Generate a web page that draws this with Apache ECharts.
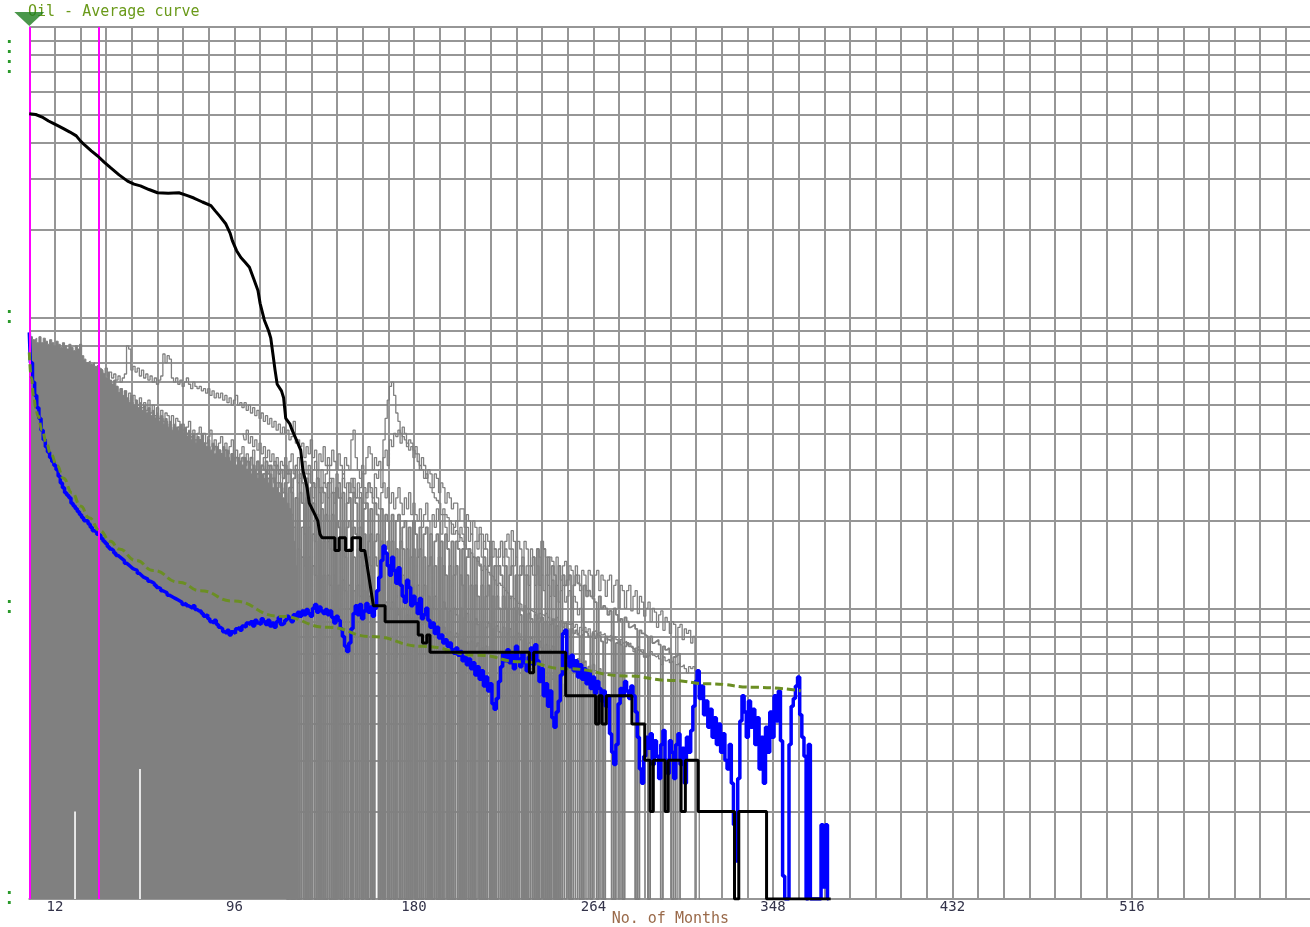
<!DOCTYPE html>
<html><head><meta charset="utf-8">
<script src="https://cdn.jsdelivr.net/npm/echarts@6/dist/echarts.min.js"></script>
<style>html,body{margin:0;padding:0;background:#fff}#c{width:1310px;height:927px}</style>
</head><body><div id="c"></div>
<script>
// ---------- tick labels / reference levels ----------
const tickLabels = [12, 96, 180, 264, 348, 432, 516];
const minorLevels = [2,3,4,5,6,7,8,9,20,30,40,50,60,70,80,90,200,300,400,500,600,700,800,900];
const markerMonths = [0, 32.5];
const headMarker = [[0, 1000]];

// ---------- dense grey mass of the early months (rate, month index = position) ----------
const greyTop = [
89,86,84,85,82,86,82,85,83,81,
84,82,80,83,81,79,82,80,78,81,
79,77,80,78,81,74,72,70,71,69,
70,68,69,67,66,64,62,65,61,59,
61,58,55,57,54,56,53,51,54,50,
52,49,51,48,50,47,49,46,48,45,
47,44,46,43,45,42,44,41,43,42,
41,43,40,42,39,41,38,40,37,39,
38,40,37,36,38,35,37,34,36,35,
34,36,33,35,32,34,33,31,33,32,
31,33,30,32,29,31,30,28,30,29,
28,30,27,29,26,28,26,25,27,24,
25,23,22,20,17,14,10
];
const gapMarks = [[21.4, 2.0], [51.8, 2.8]];

// ---------- individual wells (first month in wellStarts) ----------
const wellStarts = [34, 34, 40, 45, 50, 60, 100];
const wellWidths = [1.3, 1.3, 1.8, 1.8, 1.6, 1.6, 1.3];
const wellA = [
66,64,67,63,65,62,
64,61,63,60,62,64,80,78,66,68,
65,67,63,66,62,64,61,63,60,62,
59,61,63,75,70,74,72,62,60,62,
59,61,58,60,62,59,57,60,58,57,
58,56,57,55,57,54,56,53,55,53,
55,52,54,51,53,50,52,54,50,51,
49,51,48,50,47,49,46,48,45,47,
44,46,43,45,42,44,41,43,40,42,
40,41,38,39,44,37,38,36,37,33,
36,34,38,33,35,30,34,32,36,31,
33,31,35,32,30,34,31,29,33,31,
30,38,41,33,30,28,31,29,33,36,
34,30,33,31,32,30,38,45,52,58,
60,54,47,44,40,39,38,37,35,36,
35,34,32,31,30,28,29,27,26,25,
24,23.5,23,21,22,21,20.5,20,19.5,18,
18.5,18,17.5,17,16.5,16,15,15.5,15,14.8,
14.5,14.2,13.5,14,13.6,13.3,13,12.8,12.5,12,
12.2,12,11.8,11.5,11.3,10.8,11,10.8,10.6,10.4,
10.3,9.8,10.2,10,9.9,9.8,9.7,9.6,9.2,9.6,
9.5,9.4,9.6,9.3,1,9.2,9.1,9.3,9,9.1,
8.9,8.5,9,8.8,8.9,8.6,8.8,8.2,8.6,8.4,
8.6,8.3,8.5,8,8.3,8.4,8.2,8.3,8.1,8.2,
7.6,8,8.1,7.9,8,7.8,1,7.8,7.6,7.7,
7.5,7.6,7.4,7.1,7.3,7.4,7.2,7.2,7,6.8,
6.9,7.1,6.9,6.8,6.9,6.7,6.4,6.8,6.6,6.7,
6.5,6.6,1,6.4,6.5,6.3,6.4,6.2,6,6.3,
6.2,6.3,6.1,6,1
];
const wellB = [
60,62,58,61,57,59,
56,58,55,57,53,56,52,55,51,54,
52,50,53,49,51,48,52,47,50,46,
49,45,48,44,47,46,43,46,42,45,
44,41,43,40,42,44,39,41,38,40,
42,38,40,37,39,41,36,38,35,37,
39,35,37,34,36,38,33,35,32,34,
36,32,34,31,33,35,30,32,29,31,
33,29,31,28,30,32,27,29,26,28,
30,27,29,26,28,31,27,25,29,28,
26,29,27,24,26,30,25,23,27,26,
24,28,25,23,26,27,24,29,26,23,
27,25,28,24,24,26,29,23,25,27,
26,24,29,28,30,26,33,35,31,38,
36,40,39,41,37,42,40,36,38,37,
33,36,34,30,33,31,28,30,29,26,
29,28,25,27,26,23,25,24,22,23,
23,20,22,22,19,21,20,18,20,19,
17,19,18,16,18,17,15,17,16,15,
16,17,15,17,18,16,18.5,17,15,17,
16,14,17,16,14,16,15,13,16,15,
13,16,15,13,15,14.5,1,15,14,12.5,
14,14.5,12,14,13.5,12,14,13,11.5,13.5,
13,11.5,13.5,13,11,13,13.5,11.5,13,12.5,
11,12.5,13,10.5,12,12.5,10,12,11.5,10,
11.5,12,9.8,11,11.5,9.6,11,10.5,9.4,10,
10.5,9,10,9.7,8.6,9.5,9.8,8.4,9.3,9,
8.2,9,8.8,1,8.6,8.8,7.8,8.5,8.2,8.4,
7.6,8,1
];
const wellC = [
54,52,55,51,53,50,52,49,51,48,
50,47,49,46,48,45,47,44,46,45,
46,43,45,42,44,41,43,40,42,41,
42,39,41,38,40,37,39,38,36,38,
38,36,37,35,36,34,35,36,33,35,
34,32,35,33,31,34,32,33,31,32,
33,31,32,30,33,31,30,32,29,31,
30,32,29,31,30,28,31,29,30,28,
31,29,30,1,28,30,1,29,27,1,
28,1,26,27,1,28,1,26,25,1,
27,1,25,1,26,24,1,25,1,23,
24,1,25,23,1,24,1,22,23,1,
22,1,23,21,1,22,1,21,20,1,
21,1,20,21,1,19,20,1,19,1,
20,18,1,19,1,18,19,1,18,1,
17,18,1,17,1,18,16,1,17,1,
17,16,1,16,1,15,16,1,15,1,
15,14,1,15,1,14,15,1,14,1,
14,13,1,14,1,13,14,1,13,1,
13,14,1,13,1,14,15,1,16,1,
17,16,1,15,1,14,13,1,14,1,
13,12,12.5,13,1,12,13,12.2,12,1,
12,11,11.5,11,10.8,10.5,1,11,10,10.2,
10,9.5,9.8,1,10,9.5,9,9.2,1,9.3,
9,8.6,8.7,8.8,8.5,1,8.4,8.2,8.1,8,
1,8,7.6,7.7,7.8,7.5,1,7.4,7.2,7.3,
7,1,6.8,6.9,7,1
];
const wellD = [
48,46,49,45,47,
44,46,43,45,42,44,41,43,42,40,
42,40,41,39,40,38,40,37,39,38,
37,39,36,38,37,35,37,36,34,36,
35,33,35,34,32,34,33,31,33,32,
33,31,32,30,32,31,29,31,30,29,
31,29,30,28,30,29,27,29,28,27,
29,27,28,26,28,27,25,27,26,25,
27,1,26,25,1,24,1,25,23,1,
24,1,22,23,1,21,1,22,1,21,
20,1,21,1,20,19,1,20,1,19,
20,1,19,18,1,19,1,18,1,17,
18,1,17,18,1,17,1,16,17,1,
17,1,16,1,17,16,1,16,1,15,
16,1,15,16,1,15,1,14,15,1,
14,1,15,1,14,13,1,14,1,13,
14,1,13,12,1,13,1,12,1,12,
11,1,12,1,11,12,1,11,1,11,
10,1,11,10,1,11,1,10,1,10,
9.5,1,10,1,9.6,9.2,1,9.5,1,9,
9.3,1,9,1,8.8,9.1,1,8.7,1,9,
8.6,8.9,8.5,1,8.5,8.2,8.4,8.1,1,8.1,
8.3,8.2,8,1,8.2,7.9,8.1,8,7.7,1,
8,7.8,7.7,7.9,1,7.6,7.7,7.5,1,7.4,
7.6,7.4,7.3,7.2,1,7.2,7.1,7,6.8,6.9,
1
];
const wellE = [
40,42,39,41,38,40,37,39,38,36,
38,36,37,35,37,34,36,35,33,35,
34,36,33,35,34,32,34,33,31,33,
32,30,32,31,29,31,30,28,30,29,
28,30,27,29,28,26,28,27,25,27,
26,25,27,24,26,25,23,25,24,22,
24,23,21,23,22,20,22,21,19,21,
20,22,1,21,19,1,20,1,19,18,
1,19,1,18,17,1,18,1,17,1,
17,16,1,17,1,16,1,17,15,1,
16,1,15,1,16,15,1,14,1,15,
14,1,15,14,1,13,1,14,1,13,
14,1,13,12,1,13,1,12,1,12,
11,1,12,1,11,12,1,11,1,10,
11,1,10,1,10.5,10,1,9.8,1,10,
9.5,1,10,1,9.3,9.6,1,9,1,9.2,
8.8,1,9,1,8.6,8.9,1,8.5,1,8.7,
8.3,1,8.6,1,8.2,8.5,1,8,1,8.2,
7.8,1,8,1,7.6,7.9,1,7.5,1,7.7,
7.3,1,7.5,1,7.2,7.4,1,7,1,7.1,
6.9,1,7,1,6.8,6.6,1,6.7,1,6.5,
6.6,1,6.3,1,6.4,6.1,1,6.2,1,6,
1
];
const wellF = [
36,34,35,33,35,32,34,33,31,33,
32,30,32,31,29,31,30,28,30,29,
28,30,27,29,28,26,28,27,25,27,
26,25,27,24,26,25,23,25,24,22,
24,23,21,23,22,20,22,21,19,21,
20,19,21,18,20,19,17,19,18,16,
18,17,1,16,15,1,16,1,15,14,
1,15,1,14,13,1,14,1,13,1,
13,12,1,13,1,12,1,12.5,11.5,1,
12,1,11.5,1,12,11,1,11.5,1,11,
10.5,1,11,10.5,1,10,1,10.5,1,10,
10.5,1,10,9.5,1,10,1,9.5,1,9.2,
9,1,9.3,1,8.8,9.1,1,8.7,1,8.5,
8.8,1,8.4,1,8.6,8.2,1,8.3,1,8,
8.2,1,7.8,1,8,7.6,1,7.7,1,7.4,
7.6,1,7.3,1,7.4,7.1,1,7.2,1,7,
7.1,1,6.8,1,6.9,6.6,1,6.7,1,6.5,
6.6,1,6.3,1,6.4,6.2,1,6.1,1,6,
6.1,1,5.8,1,5.9,5.7,1,5.6,1,5.5,
1
];
const wellG = [
40,38,41,37,39,36,38,35,37,34,
36,33,35,32,34,31,33,30,32,31,
33,30,32,34,29,31,33,28,30,32,
29,31,27,30,32,28,26,30,27,29,
31,27,28,25,29,27,24,28,26,27,
25,28,26,24,27,25,23,26,24,27,
25,23,26,24,22,25,27,24,26,23,
25,22,24,26,23,21,24,22,25,21,
23,21,20,22,19,21,23,20,18,21,
19,22,20,18,21,19,17,20,18,19,
20,17,19,18,16,19,17,18,15,17,
16,18,15,17,16,14,17,15,16,14,
15,17,14,16,15,13,16,14,15,13,
14,15,13,14,12,14,13,12,14,12,
13,11.5,13,12,11,12.5,11,12,10.5,11.5,
12,10.5,11,11.5,10,11,10.5,9.5,10,9,
1
];
const wells = [wellA, wellB, wellC, wellD, wellE, wellF, wellG];

// ---------- average rate (blue), index = month ----------
const avgRate = [
89,70,60,54,49,45,41,38,36,34.5,
33,32,31,30,28.5,27,26,25,24.5,24,
23,22.5,22,21.5,21,20.5,20,20,19.5,19,
18.5,18.3,18,17.8,17.4,17,16.7,16.3,16,15.8,
15.5,15.2,15,14.8,14.6,14.3,14.1,13.9,13.7,13.6,
13.5,13.2,13,12.8,12.7,12.6,12.4,12.3,12.2,12,
11.8,11.7,11.5,11.4,11.3,11.1,11,10.9,10.8,10.7,
10.6,10.5,10.3,10.4,10.2,10.1,10,10.2,9.9,9.8,
9.8,9.6,9.4,9.5,9.2,9,8.9,9.1,8.8,8.6,
8.5,8.3,8.2,8.4,8.1,8.3,8.2,8.5,8.6,8.4,
8.7,8.6,8.9,8.8,9,8.7,9.1,8.9,8.8,9.2,
9,8.8,9.1,8.7,8.9,8.6,9,9.3,8.8,8.9,
9.1,9.4,9.2,9,9.5,9.3,9.7,9.4,9.8,9.5,
9.9,9.6,9.4,10,10.3,9.7,10.1,9.8,9.6,9.9,
9.5,9.8,9.3,8.9,9.4,9.1,8.5,8,7.4,7.1,
7.6,8.5,9.6,10.2,9.5,10.3,9.2,9.8,10.4,9.7,
10.1,9.4,10,11.5,12.8,14.6,16.4,15.5,14,13,
15,13.5,12.2,13.8,12,11,10.5,12.5,11.8,10.2,
11,10.4,9.6,10.8,9.2,9.5,10,9.1,8.6,8.9,
8.2,8.6,7.9,8.1,7.6,7.8,7.4,7.6,7.2,7,
7.3,6.9,7.1,6.6,6.8,6.4,6.7,6.2,6.5,5.9,
6.3,5.7,6.1,5.4,5.8,5.2,5.5,4.7,4.5,4.9,
5.6,6.3,7,6.6,7.2,6.5,6.9,6.2,7.4,6.7,
6.3,7,6.5,6.1,6.8,7.3,6.4,7.5,6.6,5.6,
6.2,5,5.5,4.6,5.2,4.2,3.9,4.4,4.8,5.9,
8.2,8.4,6.8,6.3,6.9,6.1,6.6,5.8,6.4,5.7,
6.2,5.5,6,5.3,5.8,5.1,5.6,5.3,4.8,5.2,
4.6,5,3.7,3.2,2.9,3.4,4.7,5.3,5,5.6,
5.2,4.9,5.4,5,4.4,3.6,2.8,2.5,3.1,3.6,
3.3,3.7,2.9,3.5,3.1,2.6,3.4,3.8,3,2.7,
3.5,3.2,2.6,3.4,3.7,2.9,3.3,2.5,3.6,3.2,
3.8,4.6,5.6,6.1,4.9,5.4,4.3,4.8,3.9,4.5,
3.6,4.2,3.4,4,3.2,3.7,3,2.8,3.4,2.5,
1.8,1.35,2.6,4.1,5,4.4,3.6,4.8,3.9,4.5,
3.4,4.2,2.8,3.6,2.5,3.9,3.2,4.4,3.6,5,
4.1,5.2,3.5,1.2,1,1,3.4,4.6,4.9,5.4,
5.8,4.3,3.6,3.1,1,3.4,1,1,1,1,
1,1.8,1.1,1.8,1
];

// ---------- number of producing wells (black): [month, count] ----------
const wellCount = [
[0,503],[3,500],[6,490],[9,475],[11,467],[14,455],[16,447],[19,435],[22,422],[24,405],[26,392],[29,375],
[32,360],[35,343],[38,328],[42,310],[46,295],[49,288],[52,284],[56,276],[60,269],[65,268],[70,269],[74,263],
[77,258],[81,250],[85,243],[87,233],[89,224],[92,210],[94,195],[95,184],[97,170],[99,161],[101,155],[103,149],
[105,136],[107,124],[108,112],[110,98],[112,90],[113,85],[114,75],[115,66],[116,59],[118,56],[119,53],[120,45],
[122,43],[123,41],[125,38],[127,35],[128,30],[130,26],[131,23],[133,21.5],[135,20],[136,18],[137,17.5],
[143,17.5],[143,15.8],[145,15.8],[145,17.5],[148,17.5],[148,15.8],[151,15.8],[151,17.5],[155,17.5],[155,15.8],[157,15.8],
[161,10.2],[166.5,10.2],[166.5,9],[182,9],[182,8.1],[184,8.1],[184,7.6],[186,7.6],[186,8.1],[187.5,8.1],[187.5,7.06],
[234,7.06],[234,6],[236,6],[236,7.06],[251,7.06],[251,5],[265,5],[265,4],[266.5,4],[266.5,5],[268,5],[268,4],[270,4],[270,5],
[282,5],[282,4],[288,4],[288,3],[290.5,3],[290.5,2],[292,2],[292,3],[297.5,3],[297.5,2],[299,2],[299,3],[305,3],[305,2],
[307,2],[307,3],[313,3],[313,2],[330,2],[330,1],[332,1],[332,2],[345,2],[345,1],[375,1]
];

// ---------- fitted average curve (green dashed): [month, rate] ----------
const fitCurve = [
[0,76],[1,62],[2,54],[3,49],[4,46],[6,41],[8,37],[10,34],[13,31],[16,28],[20,25],[24,22.5],[28,20.5],
[33,18.5],[38,17],[42,16],[50,14.6],[58,13.5],[70,12.3],[80,11.5],[95,10.6],[117,9.4],[140,8.6],[160,8],
[184,7.4],[210,6.9],[230,6.55],[251,6.2],[280,5.85],[300,5.65],[318,5.5],[340,5.35],[361,5.2]
];

// ---------- build chart ----------
const GRID_C = '#969696';
const GREY = '#808080';
const series = [];

series.push({
  type: 'line', name: 'grid', data: [], z: 1, silent: true,
  markLine: { z: 1, silent: true, symbol: 'none', animation: false, label: { show: false },
    lineStyle: { color: GRID_C, width: 2, type: 'solid' },
    emphasis: { disabled: true },
    data: minorLevels.map(v => ({ yAxis: v })) }
});

series.push({
  type: 'line', name: 'mass', z: 2, step: 'middle', showSymbol: false, silent: true,
  data: greyTop.map((v, i) => [i, v]),
  lineStyle: { color: GREY, width: 1 },
  areaStyle: { color: GREY, opacity: 1, origin: 'start' }
});

wells.forEach((vals, k) => {
  series.push({
    type: 'line', name: 'well' + k, z: 2, step: 'middle', showSymbol: false, silent: true,
    data: vals.map((v, j) => [wellStarts[k] + j, v]),
    lineStyle: { color: GREY, width: wellWidths[k] }
  });
});

gapMarks.forEach(g => {
  series.push({
    type: 'line', z: 2, showSymbol: false, silent: true,
    data: [[g[0], 1], [g[0], g[1]]],
    lineStyle: { color: '#ffffff', width: 1.6 }
  });
});

series.push({
  type: 'line', name: 'avg', z: 3, step: 'middle', showSymbol: false, silent: true,
  data: avgRate.map((v, i) => [i, v]),
  lineStyle: { color: '#0000ff', width: 3.5 }
});

series.push({
  type: 'line', name: 'markers', data: [], z: 4, silent: true,
  markLine: { z: 4, silent: true, symbol: 'none', animation: false, label: { show: false },
    lineStyle: { color: '#ff00ff', width: 2, type: 'solid' },
    emphasis: { disabled: true },
    data: markerMonths.map(m => ({ xAxis: m })) }
});

series.push({
  type: 'line', name: 'fit', z: 5, smooth: true, smoothMonotone: 'x', showSymbol: false, silent: true,
  data: fitCurve,
  lineStyle: { color: '#6b8e23', width: 3, type: [8, 4] }
});

series.push({
  type: 'line', name: 'count', z: 6, showSymbol: false, silent: true,
  data: wellCount,
  lineStyle: { color: '#000000', width: 3 }
});

series.push({
  type: 'scatter', z: 10, clip: false, silent: true,
  data: headMarker, symbol: 'triangle', symbolRotate: 180,
  symbolSize: [30, 14], symbolOffset: [0, -8],
  itemStyle: { color: '#1d7d1d' }
});

const chart = echarts.init(document.getElementById('c'), null, { renderer: 'canvas' });
chart.setOption({
  animation: false,
  backgroundColor: '#ffffff',
  title: {
    text: 'Oil - Average curve', left: 23, top: 0,
    textStyle: { fontFamily: 'DejaVu Sans Mono', fontSize: 15, fontWeight: 'normal', color: '#6a9a1a' }
  },
  grid: { left: 29.3, top: 27, width: 1282.2, height: 872, containLabel: false, outerBoundsMode: 'none' },
  xAxis: {
    type: 'value', min: 0, max: 600, interval: 12,
    name: 'No. of Months', nameLocation: 'middle', nameGap: 13, nameMoveOverlap: false,
    nameTextStyle: { fontFamily: 'DejaVu Sans Mono', fontSize: 15, color: '#9a6a4a', verticalAlign: 'top' },
    axisLine: { show: true, lineStyle: { color: GRID_C, width: 2 } },
    axisTick: { show: false },
    splitLine: { show: true, lineStyle: { color: GRID_C, width: 2 } },
    axisLabel: {
      interval: 0, margin: 1, showMinLabel: true, showMaxLabel: true,
      fontFamily: 'DejaVu Sans Mono', fontSize: 14, color: '#33334a',
      formatter: v => tickLabels.indexOf(Math.round(v)) >= 0 ? String(Math.round(v)) : ''
    }
  },
  yAxis: {
    type: 'log', logBase: 10, min: 1, max: 1000,
    axisLine: { show: false },
    axisTick: { show: false },
    splitLine: { show: true, lineStyle: { color: GRID_C, width: 2 } },
    axisLabel: {
      margin: 17,
      formatter: v => Math.round(v) >= 1000 ? '{g| }\n{d|·}\n{d|·}\n{d|·}\n{d|·}' : '{d|·}\n{d|·}',
      rich: {
        g: { lineHeight: 62, fontSize: 4 },
        d: { lineHeight: 10, fontSize: 16, fontWeight: 'bold', color: '#2a9a2a', fontFamily: 'DejaVu Sans' }
      }
    }
  },
  series: series
});
</script>
</body></html>
